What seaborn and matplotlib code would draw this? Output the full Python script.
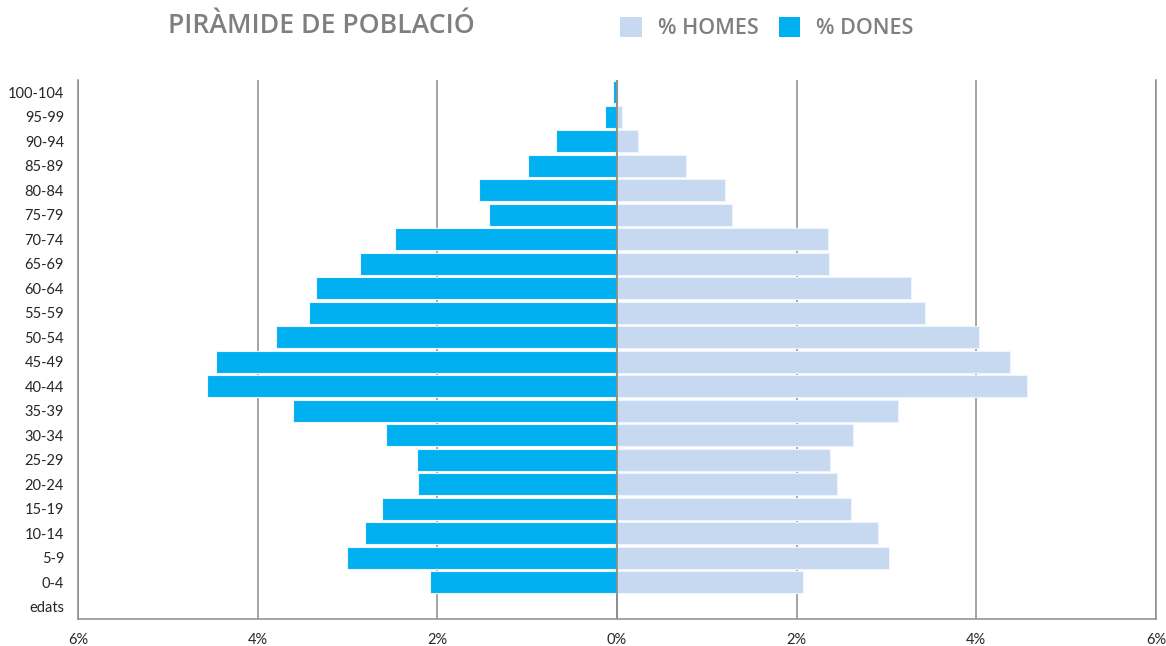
import matplotlib
matplotlib.use("Agg")
import matplotlib.pyplot as plt
import matplotlib.ticker as mticker
from matplotlib.patches import Patch
import seaborn as sns
import pandas as pd
import numpy as np

ages = ["100-104", "95-99", "90-94", "85-89", "80-84", "75-79", "70-74", "65-69",
        "60-64", "55-59", "50-54", "45-49", "40-44", "35-39", "30-34", "25-29",
        "20-24", "15-19", "10-14", "5-9", "0-4"]
category_order = ages + ["edats"]
homes = [0.01, 0.06, 0.23, 0.77, 1.20, 1.28, 2.35, 2.36, 3.27, 3.43, 4.03, 4.37,
         4.56, 3.13, 2.63, 2.37, 2.45, 2.60, 2.91, 3.03, 2.07]
dones = [0.04, 0.13, 0.68, 0.99, 1.54, 1.42, 2.47, 2.86, 3.35, 3.43, 3.80, 4.46,
         4.56, 3.61, 2.57, 2.23, 2.22, 2.62, 2.81, 3.01, 2.08]
xticks = [-6, -4, -2, 0, 2, 4, 6]
title = "PIRÀMIDE DE POBLACIÓ"
legend_labels = ["% HOMES", "% DONES"]

c_homes = "#C6D9F1"
c_dones = "#00B0F0"
grid_c = "#8C8C8C"

df = pd.DataFrame({
    "edat": ages * 2,
    "valor": homes + [-v for v in dones],
    "sexe": [legend_labels[0]] * len(ages) + [legend_labels[1]] * len(ages),
})

sns.set_theme(style="white")
plt.rcParams["font.family"] = ["Lato", "DejaVu Sans"]

fig = plt.figure(figsize=(11.66, 6.46), dpi=100)
ax = fig.add_axes([78 / 1166, 1 - 619 / 646, (1156 - 78) / 1166, (619 - 80) / 646])

sns.barplot(data=df, x="valor", y="edat", hue="sexe", order=category_order,
            hue_order=legend_labels, palette=[c_homes, c_dones], dodge=False,
            orient="h", width=0.9, ax=ax, legend=False, edgecolor="#EEF4FB",
            linewidth=0.8, saturation=1, zorder=3)

ax.set_xlim(-6, 6)
ax.set_ylim(len(category_order) - 0.5, -0.5)
ax.set_xticks(xticks)
ax.xaxis.set_major_formatter(mticker.FuncFormatter(lambda v, p: f"{abs(v):.0f}%"))
ax.set_xlabel("")
ax.set_ylabel("")
for x in xticks:
    ax.axvline(x, color=grid_c, lw=1.1, zorder=1)
ax.axvline(0, color=grid_c, lw=1.3, zorder=4)

ax.spines["top"].set_visible(False)
for side in ["left", "right", "bottom"]:
    ax.spines[side].set_visible(True)
    ax.spines[side].set_color(grid_c)
    ax.spines[side].set_linewidth(1.1)

ax.tick_params(axis="both", length=0, labelsize=10.5, colors="#262626")
ax.tick_params(axis="x", pad=10)
ax.tick_params(axis="y", pad=10)

fig.text(168 / 1166, 1 - 26 / 646, title, fontsize=19.2, fontweight="semibold",
         color="#7F7F7F", va="center", ha="left", family=["Open Sans", "DejaVu Sans"])

handles = [Patch(facecolor=c_homes, edgecolor="none"),
           Patch(facecolor=c_dones, edgecolor="none")]
fig.legend(handles, legend_labels, loc="center left",
           bbox_to_anchor=(601 / 1166, 1 - 28 / 646), ncol=2, frameon=False,
           labelcolor="#7F7F7F", handlelength=1.0, handleheight=1.1,
           handletextpad=0.75, columnspacing=0.93,
           prop={"family": ["Open Sans", "DejaVu Sans"], "size": 15.5, "weight": "semibold"})

fig.savefig("out.png", dpi=100)
